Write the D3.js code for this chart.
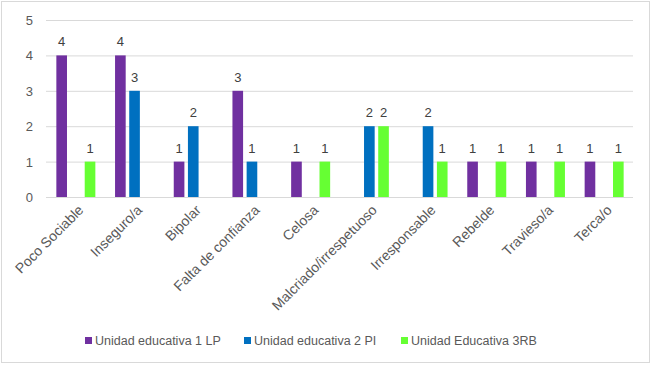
<!DOCTYPE html>
<html>
<head>
<meta charset="utf-8">
<script src="https://cdn.jsdelivr.net/npm/d3@7"></script>
<style>
  body { margin: 0; background: #fff; }
  svg { font-family: "Liberation Sans", Arial, sans-serif; }
  .axis text { fill: #595959; font-size: 13px; }
  .axis path, .axis line { stroke: none; }
</style>
</head>
<body>
<svg id="chart" width="652" height="367"></svg>
<script>
// chart values
const categories = ["Poco Sociable", "Inseguro/a", "Bipolar", "Falta de confianza", "Celosa",
    "Malcriado/irrespetuoso", "Irresponsable", "Rebelde", "Travieso/a", "Terca/o"];
const seriesNames = ["Unidad educativa 1 LP", "Unidad educativa 2 PI", "Unidad Educativa 3RB"];
const values1LP = [4, 4, 1, 3, 1, 0, 0, 1, 1, 1];
const values2PI = [0, 3, 2, 1, 0, 2, 2, 0, 0, 0];
const values3RB = [1, 0, 0, 0, 1, 2, 1, 1, 1, 1];
const yTicks = [0, 1, 2, 3, 4, 5];
const colors = ["#7030A0", "#0070C0", "#66FF33"];

const series = [values1LP, values2PI, values3RB];

let svg = d3.select("#chart");
let margin = {top: 20, right: 19, bottom: 170, left: 46};
let width = 652 - margin.left - margin.right;
let height = 367 - margin.top - margin.bottom;

// outer frame
svg.append("rect")
    .attr("x", 1.5).attr("y", 1.5)
    .attr("width", 648).attr("height", 361)
    .attr("fill", "#fff").attr("stroke", "#d9d9d9");

let g = svg.append("g")
    .attr("transform", "translate(" + margin.left + "," + margin.top + ")");

let x = d3.scaleBand().domain(categories).range([0, width]).padding(0);
let xs = d3.scaleBand().domain(d3.range(series.length))
    .range([x.bandwidth() / 2 - 19, x.bandwidth() / 2 + 20]).paddingInner(0.25).paddingOuter(0);
let y = d3.scaleLinear().domain([0, 5]).range([height, 0]);

// gridlines
g.selectAll(".grid")
    .data(yTicks)
    .enter().append("line")
    .attr("x1", 0).attr("x2", width)
    .attr("y1", d => y(d) + 0.5).attr("y2", d => y(d) + 0.5)
    .attr("stroke", "#d9d9d9").attr("stroke-width", 1);

// y axis
g.append("g")
    .attr("class", "axis axis--y")
    .attr("transform", "translate(-10,0)")
    .call(d3.axisLeft(y).tickValues(yTicks).tickFormat(d3.format("d")).tickSize(0).tickPadding(3))
    .selectAll("text").attr("dy", "0.35em");

// x axis
let xAxis = g.append("g")
    .attr("class", "axis axis--x")
    .attr("transform", "translate(0," + height + ")")
    .call(d3.axisBottom(x).tickSize(0).tickPadding(0));
xAxis.selectAll("text")
    .attr("text-anchor", "end")
    .attr("dy", 0)
    .style("font-size", "14px")
    .attr("transform", "translate(9,14) rotate(-45)");

// bars
let flat = [];
categories.forEach((c, i) => series.forEach((s, j) => flat.push({cat: c, s: j, value: s[i]})));
let shown = flat.filter(d => d.value > 0);

g.selectAll(".bar")
    .data(shown)
    .enter().append("rect")
    .attr("class", "bar")
    .attr("x", d => x(d.cat) + xs(d.s))
    .attr("y", d => y(d.value))
    .attr("width", xs.bandwidth())
    .attr("height", d => height - y(d.value))
    .attr("fill", d => colors[d.s]);

// value labels
g.selectAll(".label")
    .data(shown)
    .enter().append("text")
    .attr("x", d => x(d.cat) + xs(d.s) + xs.bandwidth() / 2)
    .attr("y", d => y(d.value) - 9)
    .attr("text-anchor", "middle")
    .attr("fill", "#404040")
    .style("font-size", "13px")
    .text(d => d.value);

// legend
let legendX = [85, 244, 401];
let legend = svg.selectAll(".legend")
    .data(seriesNames)
    .enter().append("g")
    .attr("transform", (d, i) => "translate(" + legendX[i] + ",337)");
legend.append("rect")
    .attr("width", 7).attr("height", 7).attr("y", 0)
    .attr("fill", (d, i) => colors[i]);
legend.append("text")
    .attr("x", 10).attr("y", 4)
    .attr("dy", "0.35em")
    .attr("fill", "#595959")
    .style("font-size", "12.5px")
    .text(d => d);
</script>
</body>
</html>
